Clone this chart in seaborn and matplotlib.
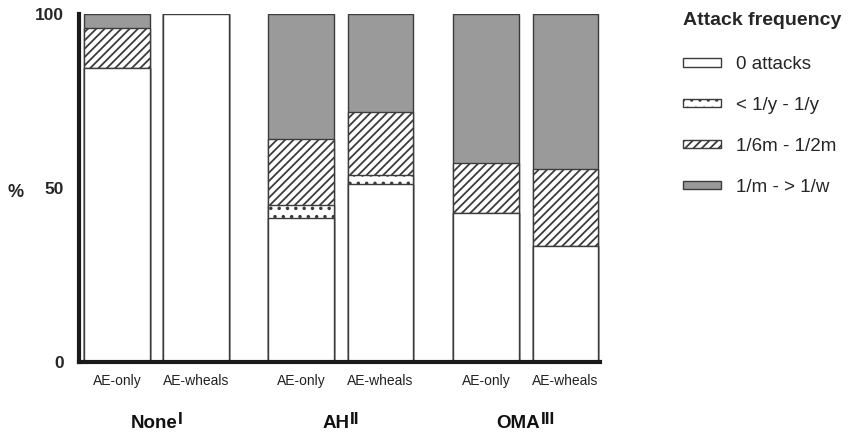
import numpy as np
import pandas as pd
import seaborn as sns
import matplotlib.pyplot as plt
from matplotlib.patches import Patch
from matplotlib.transforms import blended_transform_factory, Affine2D

# Share of patients (%) per attack-frequency class, by treatment and subtype
treatments = ["None", "AH", "OMA"]
treatment_marks = ["I", "II", "III"]
subtypes = ["AE-only", "AE-wheals"]
categories = ["0 attacks", "< 1/y - 1/y", "1/6m - 1/2m", "1/m - > 1/w"]
pct_zero = [84.6, 100.0, 41.2, 51.1, 42.9, 33.3]
pct_rare = [0.0, 0.0, 3.9, 2.5, 0.0, 0.0]
pct_halfmonth = [11.5, 0.0, 18.9, 18.2, 14.3, 22.2]
pct_frequent = [3.9, 0.0, 36.0, 28.2, 42.8, 44.5]
y_ticks = [0, 50, 100]

# layout of the six bars (two per treatment, wider gap between treatments)
x_pos = [0.0, 1.0, 2.326, 3.327, 4.659, 5.663]
bar_width = 0.827

fills = ["white", "white", "white", "#9a9a9a"]
hatches = [None, "..", "////", None]
edge = "#3c3c3c"

sns.set_style("white")
plt.rcParams["font.family"] = ["Liberation Sans", "DejaVu Sans"]
plt.rcParams["hatch.linewidth"] = 1.3
plt.rcParams["hatch.color"] = "#222222"

# cumulative tops for stacking
layers = [pct_zero, pct_rare, pct_halfmonth, pct_frequent]
cum = np.cumsum(np.array(layers), axis=0)
rows = []
for k, cat in enumerate(categories):
    for i in range(len(x_pos)):
        rows.append({"pos": x_pos[i], "top": cum[k, i], "layer": cat,
                     "subtype": subtypes[i % 2]})
long = pd.DataFrame(rows)

fig = plt.figure(figsize=(8.5, 4.37), dpi=100)
ax = fig.add_axes([79 / 850, 1 - 361.7 / 437, (600 - 79) / 850, 347.7 / 437])

# draw the tallest layer first so lower segments sit on top
for k in reversed(range(len(categories))):
    sub = long[long["layer"] == categories[k]]
    sns.barplot(data=sub, x="pos", y="top", native_scale=True, orient="x",
                width=bar_width, color=fills[k], saturation=1, errorbar=None,
                edgecolor=edge, linewidth=1.0, hatch=hatches[k], ax=ax)

ax.set_xlim(-0.48, 6.098)
ax.set_ylim(0, 100)
ax.set_xticks(x_pos, [subtypes[i % 2] for i in range(len(x_pos))])
ax.set_yticks(y_ticks, [str(v) for v in y_ticks])
ax.set_xlabel("")
ax.set_ylabel("%", rotation=0, fontsize=13, fontweight="bold", ha="center", va="center")
ax.yaxis.set_label_coords(-0.121, 0.488)

for side in ["top", "right"]:
    ax.spines[side].set_visible(False)
for side in ["left", "bottom"]:
    ax.spines[side].set_linewidth(3)
    ax.spines[side].set_color("#1a1a1a")

ax.tick_params(axis="x", length=0, pad=8.5, labelsize=10, labelcolor="#222222")
ax.tick_params(axis="y", length=7.5, width=2.2, color="#1a1a1a", pad=3.4, labelsize=12.5)
for lbl in ax.get_yticklabels():
    lbl.set_fontweight("bold")

# treatment names with roman superscripts
trans = blended_transform_factory(ax.transData, ax.transAxes)
base_y = (361.7 - 428) / 347.7
mains, sups = [], []
for g, (name, mark) in enumerate(zip(treatments, treatment_marks)):
    cx = (x_pos[2 * g] + x_pos[2 * g + 1]) / 2
    t = ax.text(cx, base_y, name, transform=trans, ha="center", va="baseline",
                fontsize=13.5, fontweight="bold", color="#111111")
    s = ax.text(cx, base_y, mark, transform=trans, ha="left", va="baseline",
                fontsize=12.5, fontweight="bold", color="#111111",
                family=["Liberation Sans Narrow", "Liberation Sans"])
    mains.append(t)
    sups.append(s)

fig.canvas.draw()
renderer = fig.canvas.get_renderer()
for t, s in zip(mains, sups):
    wm = t.get_window_extent(renderer).width
    ws = s.get_window_extent(renderer).width
    t.set_transform(trans + Affine2D().translate(-ws / 2 - 0.3, 0))
    s.set_transform(trans + Affine2D().translate(wm / 2 - ws / 2 + 0.3, 4))

handles = [Patch(facecolor=fills[k], edgecolor=edge, hatch=hatches[k], linewidth=1.0)
           for k in range(len(categories))]
leg = fig.legend(handles, categories, loc="upper left",
                 bbox_to_anchor=(683 / 850, 1 - 12 / 437), frameon=False,
                 title="Attack frequency",
                 title_fontproperties={"weight": "bold", "size": 14},
                 fontsize=13.5, handlelength=2.0, handleheight=0.3,
                 labelspacing=1.27, handletextpad=0.8, borderpad=0,
                 borderaxespad=0, alignment="left")
leg._legend_box.sep += 2.5

fig.savefig("out.png", dpi=100)
